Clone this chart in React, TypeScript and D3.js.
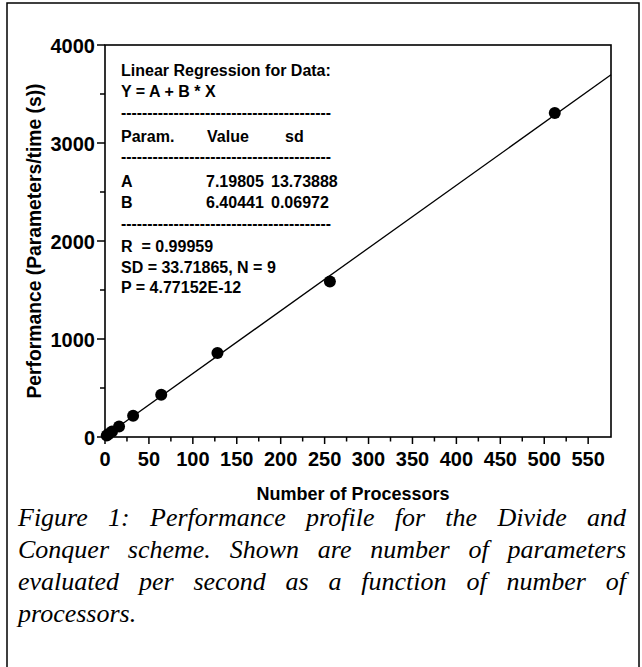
import { useEffect, useRef } from 'react';
import * as d3 from 'd3';

// data
const processors = [2, 4, 8, 16, 32, 64, 128, 256, 512];
const performance = [15, 30, 55, 108, 217, 432, 857, 1587, 3306];
const fitA = 7.19805;
const fitB = 6.40441;

const xTicks = [0, 50, 100, 150, 200, 250, 300, 350, 400, 450, 500, 550];
const xMinorTicks = [25, 75, 125, 175, 225, 275, 325, 375, 425, 475, 525];
const yTicks = [0, 1000, 2000, 3000, 4000];
const yMinorTicks = [500, 1500, 2500, 3500];

const boxHeader = ['Linear Regression for Data:', 'Y = A + B * X'];
const paramHeader = ['Param.', 'Value', 'sd'];
const paramNames = ['A', 'B'];
const paramValues = ['7.19805', '6.40441'];
const paramSd = ['13.73888', '0.06972'];
const summaryLines = ['R  = 0.99959', 'SD = 33.71865, N = 9', 'P = 4.77152E-12'];

const captionLines = [
  'Figure 1: Performance profile for the Divide and',
  'Conquer scheme. Shown are number of parameters',
  'evaluated per second as a function of number of',
  'processors.',
];

const W = 642;
const H = 667;
const plot = { left: 105, right: 611, top: 45, bottom: 437 };
const sans = 'Arial, "Liberation Sans", Helvetica, sans-serif';
const serif = '"Times New Roman", "Liberation Serif", Times, serif';

const x = d3.scaleLinear().domain([0, 576]).range([plot.left, plot.right]);
const y = d3.scaleLinear().domain([0, 4000]).range([plot.bottom, plot.top]);

const dashes = '-'.repeat(40);

const App = () => {
  const capRef = useRef<SVGGElement>(null);

  // justified caption, word by word
  useEffect(() => {
    const g = d3.select(capRef.current);
    g.selectAll('*').remove();
    const x0 = 18;
    const x1 = 626;
    captionLines.forEach((line, i) => {
      const words = line.split(' ');
      const baseY = 526 + i * 32;
      const nodes = words.map((w) =>
        g.append('text')
          .attr('y', baseY)
          .attr('font-family', serif)
          .attr('font-style', 'italic')
          .attr('font-size', 26)
          .attr('fill', '#000')
          .text(w)
      );
      const widths = nodes.map((n) => (n.node() as SVGTextElement).getComputedTextLength());
      const total = d3.sum(widths);
      const last = i === captionLines.length - 1;
      const gap = last || words.length < 2 ? 6.5 : (x1 - x0 - total) / (words.length - 1);
      let cx = x0;
      nodes.forEach((n, j) => {
        n.attr('x', cx);
        cx += widths[j] + gap;
      });
    });
  }, []);

  const line = d3.line<number>()
    .x((d) => x(d))
    .y((d) => y(fitA + fitB * d));

  const boxX = 121;
  const col2 = 206;
  const col3 = 271;
  const boxFont = {
    fontFamily: sans,
    fontSize: 16,
    fontWeight: 'bold' as const,
    fill: '#000',
    style: { whiteSpace: 'pre' as const },
  };

  return (
    <div style={{ position: 'absolute', left: 0, top: 0, width: W, height: H, background: '#fff' }}>
      <svg width={W} height={H} style={{ display: 'block' }}>
        <rect x={0} y={0} width={W} height={H} fill="#fff" />
        {/* page frame */}
        <rect x={7} y={3} width={632} height={720} fill="none" stroke="#000" strokeWidth={1.5} />

        {/* plot box */}
        <rect
          x={plot.left}
          y={plot.top}
          width={plot.right - plot.left}
          height={plot.bottom - plot.top}
          fill="none"
          stroke="#000"
          strokeWidth={1.6}
        />

        {/* y axis */}
        {yTicks.map((t) => (
          <g key={'y' + t}>
            <line x1={plot.left - 8} x2={plot.left} y1={y(t)} y2={y(t)} stroke="#000" strokeWidth={1.5} />
            <text
              x={plot.left - 10}
              y={y(t) + 7.5}
              textAnchor="end"
              fontFamily={sans}
              fontWeight="bold"
              fontSize={20}
            >
              {t}
            </text>
          </g>
        ))}
        {yMinorTicks.map((t) => (
          <line key={'ym' + t} x1={plot.left - 5} x2={plot.left} y1={y(t)} y2={y(t)} stroke="#000" strokeWidth={1.5} />
        ))}

        {/* x axis */}
        {xTicks.map((t) => (
          <g key={'x' + t}>
            <line x1={x(t)} x2={x(t)} y1={plot.bottom} y2={plot.bottom + 7} stroke="#000" strokeWidth={1.5} />
            <text
              x={x(t)}
              y={plot.bottom + 29}
              textAnchor="middle"
              fontFamily={sans}
              fontWeight="bold"
              fontSize={20}
            >
              {t}
            </text>
          </g>
        ))}
        {xMinorTicks.map((t) => (
          <line key={'xm' + t} x1={x(t)} x2={x(t)} y1={plot.bottom} y2={plot.bottom + 4.5} stroke="#000" strokeWidth={1.5} />
        ))}

        {/* axis titles */}
        <text x={353} y={500} textAnchor="middle" fontFamily={sans} fontWeight="bold" fontSize={18}>
          Number of Processors
        </text>
        <text
          transform={`translate(41, ${(plot.top + plot.bottom) / 2}) rotate(-90)`}
          textAnchor="middle"
          fontFamily={sans}
          fontWeight="bold"
          fontSize={19.3}
        >
          Performance (Parameters/time (s))
        </text>

        {/* regression line + points */}
        <path d={line([0, 576]) || ''} fill="none" stroke="#000" strokeWidth={1.3} />
        {processors.map((p, i) => (
          <circle key={p} cx={x(p)} cy={y(performance[i])} r={6} fill="#000" />
        ))}

        {/* regression summary box */}
        <g>
          {boxHeader.map((t, i) => (
            <text key={t} x={boxX} y={76 + i * 21} {...boxFont}>{t}</text>
          ))}
          {[113, 157, 224].map((cy) => (
            <text
              key={'d' + cy}
              x={boxX}
              y={cy + 5}
              textLength={210}
              lengthAdjust="spacingAndGlyphs"
              {...boxFont}
            >
              {dashes}
            </text>
          ))}
          <text x={boxX} y={142} {...boxFont}>{paramHeader[0]}</text>
          <text x={col2 + 1} y={142} {...boxFont}>{paramHeader[1]}</text>
          <text x={285} y={142} {...boxFont}>{paramHeader[2]}</text>
          {paramNames.map((n, i) => (
            <g key={n}>
              <text x={boxX} y={187 + i * 21} {...boxFont}>{n}</text>
              <text x={col2} y={187 + i * 21} {...boxFont}>{paramValues[i]}</text>
              <text x={col3} y={187 + i * 21} {...boxFont}>{paramSd[i]}</text>
            </g>
          ))}
          {summaryLines.map((t, i) => (
            <text key={t} x={boxX} y={252 + i * 20.5} {...boxFont}>{t}</text>
          ))}
        </g>

        {/* caption */}
        <g ref={capRef} />
      </svg>
    </div>
  );
};

export default App;
